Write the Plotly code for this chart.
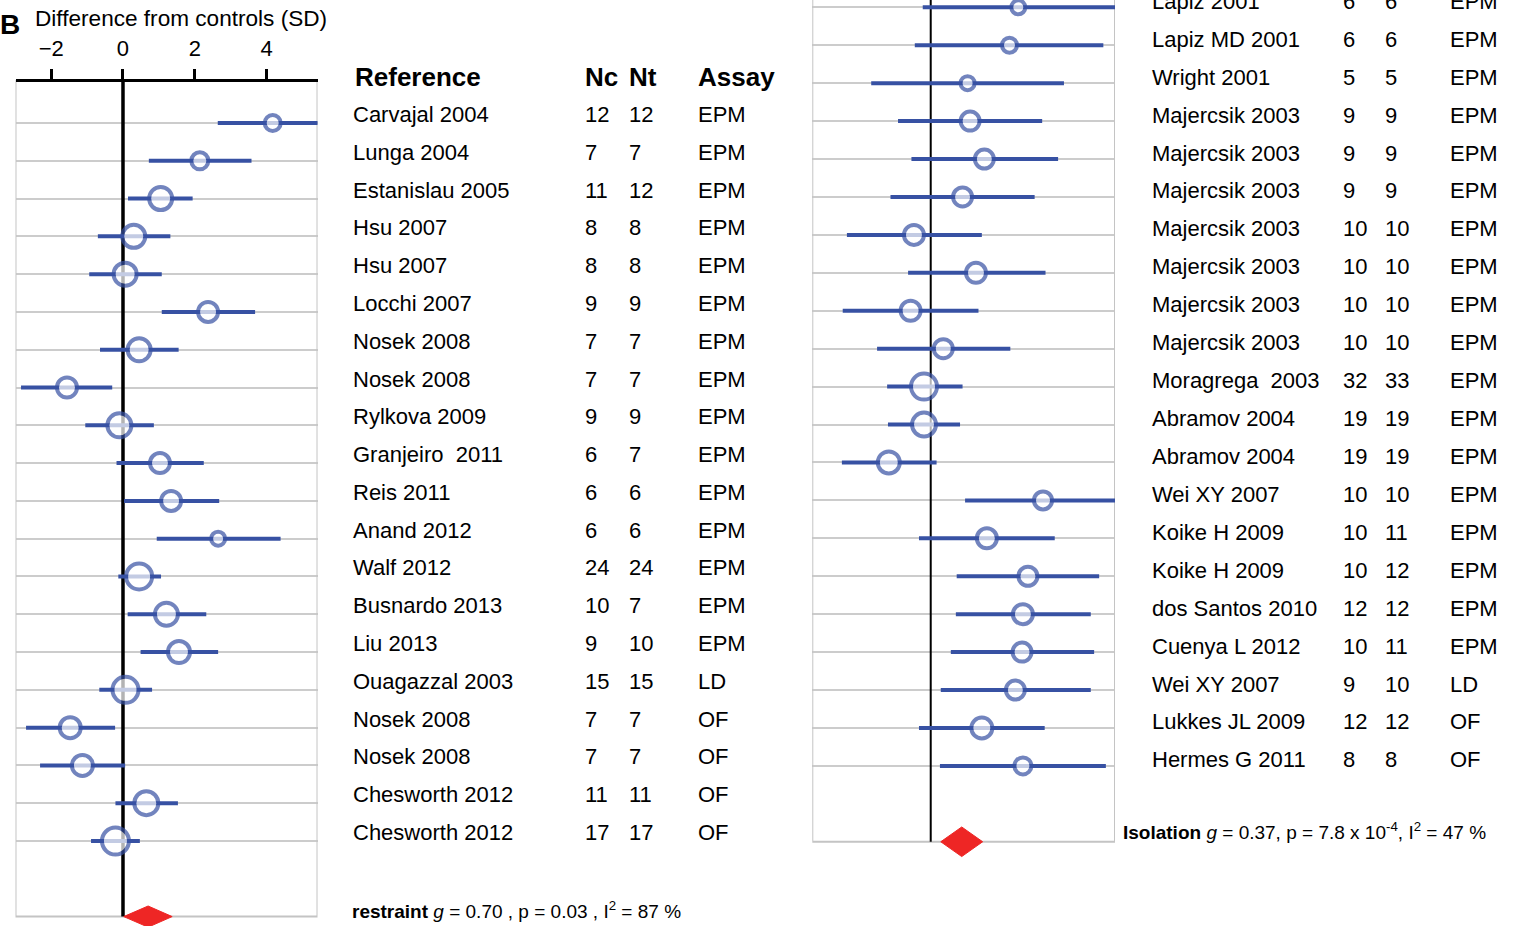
import plotly.graph_objects as go

W, H = 1539, 926
FONT = "Liberation Sans, Arial, Helvetica, sans-serif"
BLUE = "#3751a3"
RED = "#ee2625"
GRID = "#cccccc"
BOX = "#c4c4c4"

# ---------------- data: restraint (left panel) ----------------
left_ref = ["Carvajal 2004", "Lunga 2004", "Estanislau 2005", "Hsu 2007", "Hsu 2007",
            "Locchi 2007", "Nosek 2008", "Nosek 2008", "Rylkova 2009", "Granjeiro  2011",
            "Reis 2011", "Anand 2012", "Walf 2012", "Busnardo 2013", "Liu 2013",
            "Ouagazzal 2003", "Nosek 2008", "Nosek 2008", "Chesworth 2012", "Chesworth 2012"]
left_nc = [12, 7, 11, 8, 8, 9, 7, 7, 9, 6, 6, 6, 24, 10, 9, 15, 7, 7, 11, 17]
left_nt = [12, 7, 12, 8, 8, 9, 7, 7, 9, 7, 6, 6, 24, 7, 10, 15, 7, 7, 11, 17]
left_assay = ["EPM", "EPM", "EPM", "EPM", "EPM", "EPM", "EPM", "EPM", "EPM", "EPM",
              "EPM", "EPM", "EPM", "EPM", "EPM", "LD", "OF", "OF", "OF", "OF"]
left_g = [4.17, 2.14, 1.05, 0.30, 0.06, 2.37, 0.45, -1.56, -0.10, 1.03,
          1.34, 2.65, 0.45, 1.21, 1.56, 0.07, -1.47, -1.13, 0.65, -0.21]
left_lo = [2.64, 0.72, 0.14, -0.70, -0.94, 1.08, -0.64, -2.84, -1.05, -0.18,
           0.03, 0.94, -0.13, 0.13, 0.49, -0.66, -2.70, -2.31, -0.21, -0.89]
left_hi = [5.70, 3.58, 1.94, 1.32, 1.08, 3.68, 1.55, -0.30, 0.86, 2.25,
           2.68, 4.39, 1.06, 2.32, 2.65, 0.81, -0.22, 0.06, 1.53, 0.47]
left_weight_px = [20, 21, 27, 27, 27, 24, 27, 24, 28, 24, 24, 18, 30, 27, 26, 30, 25, 25, 28, 31]

# ---------------- data: isolation (right panel) ----------------
right_ref = ["Lapiz 2001", "Lapiz MD 2001", "Wright 2001", "Majercsik 2003", "Majercsik 2003",
             "Majercsik 2003", "Majercsik 2003", "Majercsik 2003", "Majercsik 2003", "Majercsik 2003",
             "Moragrega  2003", "Abramov 2004", "Abramov 2004", "Wei XY 2007", "Koike H 2009",
             "Koike H 2009", "dos Santos 2010", "Cuenya L 2012", "Wei XY 2007", "Lukkes JL 2009",
             "Hermes G 2011"]
right_nc = [6, 6, 5, 9, 9, 9, 10, 10, 10, 10, 32, 19, 19, 10, 10, 10, 12, 10, 9, 12, 8]
right_nt = [6, 6, 5, 9, 9, 9, 10, 10, 10, 10, 33, 19, 19, 10, 11, 12, 12, 11, 10, 12, 8]
right_assay = ["EPM", "EPM", "EPM", "EPM", "EPM", "EPM", "EPM", "EPM", "EPM", "EPM",
               "EPM", "EPM", "EPM", "EPM", "EPM", "EPM", "EPM", "EPM", "LD", "OF", "OF"]
right_g = [1.045, 0.94, 0.44, 0.47, 0.64, 0.38, -0.20, 0.54, -0.24, 0.15,
           -0.08, -0.08, -0.50, 1.34, 0.67, 1.16, 1.10, 1.09, 1.01, 0.61, 1.10]
right_lo = [-0.095, -0.19, -0.71, -0.39, -0.23, -0.48, -1.00, -0.27, -1.05, -0.64,
            -0.52, -0.51, -1.06, 0.41, -0.14, 0.31, 0.30, 0.24, 0.12, -0.14, 0.11]
right_hi = [2.40, 2.06, 1.59, 1.33, 1.52, 1.24, 0.61, 1.37, 0.57, 0.95,
            0.38, 0.35, 0.07, 2.40, 1.48, 2.01, 1.91, 1.95, 1.91, 1.36, 2.09]
right_weight_px = [18, 19, 18, 23, 23, 23, 24, 24, 24, 23, 30, 28, 26, 22, 24, 23, 24, 23, 23, 25, 21]

# pooled estimates [restraint, isolation]
summary_label = ["restraint", "Isolation"]
summary_g = [0.70, 0.37]
summary_lo = [0.02, 0.12]
summary_hi = [1.37, 0.62]

tick_vals = [-2, 0, 2, 4]

# ---------------- geometry ----------------
L_ROW1_PX, L_STEP = 123.0, 37.79
R_ROW1_PX, R_STEP = 7.3, 37.93
nL, nR = len(left_ref), len(right_ref)
L_SUM_ROW = nL + 2
R_SUM_ROW = nR + 2
L_TOP_ROW = 1 + (80 - L_ROW1_PX) / L_STEP
R_TOP_ROW = 0.0
L_RANGE = [-2.994, 5.418]
R_RANGE = [-1.413, 2.199]

fig = go.Figure()


def add_frame(xr, top, bottom, zero_w, xa, ya):
    # box (left, bottom, right) in light grey
    fig.add_trace(go.Scatter(x=[xr[0], xr[0], xr[1], xr[1]], y=[top, bottom, bottom, top],
                             mode="lines", line=dict(color=BOX, width=2), xaxis=xa, yaxis=ya,
                             hoverinfo="skip", showlegend=False, cliponaxis=False))
    # zero reference line
    fig.add_trace(go.Scatter(x=[0, 0], y=[top, bottom], mode="lines",
                             line=dict(color="black", width=zero_w), xaxis=xa, yaxis=ya,
                             hoverinfo="skip", showlegend=False))


def add_panel(g, lo, hi, size, xa, ya):
    rows = list(range(1, len(g) + 1))
    xs, ys = [], []
    for r, a, b in zip(rows, lo, hi):
        xs += [a, b, None]
        ys += [r, r, None]
    fig.add_trace(go.Scatter(x=xs, y=ys, mode="lines", xaxis=xa, yaxis=ya,
                             line=dict(color=BLUE, width=4), hoverinfo="skip",
                             showlegend=False))
    fig.add_trace(go.Scatter(x=g, y=rows, mode="markers", xaxis=xa, yaxis=ya,
                             marker=dict(symbol="circle", color="white",
                                         size=[s - 4 for s in size],
                                         line=dict(color=BLUE, width=4)),
                             showlegend=False, cliponaxis=False))


def add_diamond(g, lo, hi, row, half_h, xa, ya):
    fig.add_trace(go.Scatter(x=[lo, g, hi, g, lo], y=[row, row - half_h, row, row + half_h, row],
                             mode="lines", fill="toself", fillcolor=RED,
                             line=dict(color=RED, width=1), xaxis=xa, yaxis=ya,
                             hoverinfo="skip", showlegend=False, cliponaxis=False))


add_frame(L_RANGE, L_TOP_ROW, L_SUM_ROW, 3.5, "x", "y")
add_frame(R_RANGE, R_TOP_ROW, R_SUM_ROW, 2, "x2", "y2")
add_panel(left_g, left_lo, left_hi, left_weight_px, "x", "y")
add_panel(right_g, right_lo, right_hi, right_weight_px, "x2", "y2")
add_diamond(summary_g[0], summary_lo[0], summary_hi[0], L_SUM_ROW, 0.28, "x", "y")
add_diamond(summary_g[1], summary_lo[1], summary_hi[1], R_SUM_ROW, 0.39, "x2", "y2")

ann = []


def txt(text, xpx, ypx, size=22, bold=False):
    if bold:
        text = "<b>" + text + "</b>"
    ann.append(dict(text=text, x=xpx / W, y=1 - ypx / H, xref="paper", yref="paper",
                    xanchor="left", yanchor="middle", showarrow=False,
                    font=dict(family=FONT, size=size, color="black")))


L_OFF, R_OFF = -8.5, -6.0
for i in range(nL):
    ypx = L_ROW1_PX + i * L_STEP + L_OFF
    txt(left_ref[i], 351, ypx)
    txt(str(left_nc[i]), 583, ypx)
    txt(str(left_nt[i]), 627, ypx)
    txt(left_assay[i], 696, ypx)
for i in range(nR):
    ypx = R_ROW1_PX + i * R_STEP + R_OFF
    txt(right_ref[i], 1150, ypx)
    txt(str(right_nc[i]), 1341, ypx)
    txt(str(right_nt[i]), 1383, ypx)
    txt(right_assay[i], 1448, ypx)

txt("Reference", 353, 77, size=26, bold=True)
txt("Nc", 583, 77, size=26, bold=True)
txt("Nt", 627, 77, size=26, bold=True)
txt("Assay", 696, 77, size=26, bold=True)

txt("B", -2, 25, size=28, bold=True)
txt("Difference from controls (SD)", 33, 18, size=22.6)

txt("<b>%s</b> <i>g</i> = %.2f , p = 0.03 , I<sup>2</sup> = 87 %%" % (summary_label[0], summary_g[0]),
    350, 910, size=19)
txt("<b>%s</b> <i>g</i> = %.2f, p = 7.8 x 10<sup>-4</sup>, I<sup>2</sup> = 47 %%" % (summary_label[1], summary_g[1]),
    1121, 831, size=19)

fig.update_layout(
    width=W, height=H, margin=dict(l=0, r=0, t=0, b=0),
    paper_bgcolor="white", plot_bgcolor="white", showlegend=False,
    annotations=ann,
    xaxis=dict(domain=[15.5 / W, 317.5 / W], range=L_RANGE, anchor="free",
               position=1 - 80 / H, side="top", tickvals=tick_vals,
               showline=True, linewidth=3, linecolor="black", ticks="outside",
               ticklen=10, tickwidth=3, tickcolor="black", ticklabelstandoff=4,
               tickfont=dict(family=FONT, size=22, color="black"),
               showgrid=False, zeroline=False, fixedrange=True),
    yaxis=dict(domain=[0, 1], range=[1 + (H - L_ROW1_PX) / L_STEP, 1 - L_ROW1_PX / L_STEP],
               anchor="x", tickvals=list(range(1, nL + 1)), showgrid=True,
               gridcolor=GRID, gridwidth=2, showticklabels=False, ticks="",
               showline=False, zeroline=False, fixedrange=True),
    xaxis2=dict(domain=[812.3 / W, 1115 / W], range=R_RANGE, anchor="y2",
                visible=False, fixedrange=True),
    yaxis2=dict(domain=[0, 1], range=[1 + (H - R_ROW1_PX) / R_STEP, 1 - R_ROW1_PX / R_STEP],
                anchor="x2", tickvals=list(range(1, nR + 1)), showgrid=True,
                gridcolor=GRID, gridwidth=2, showticklabels=False, ticks="",
                showline=False, zeroline=False, fixedrange=True),
)

fig.write_html("out.html")
